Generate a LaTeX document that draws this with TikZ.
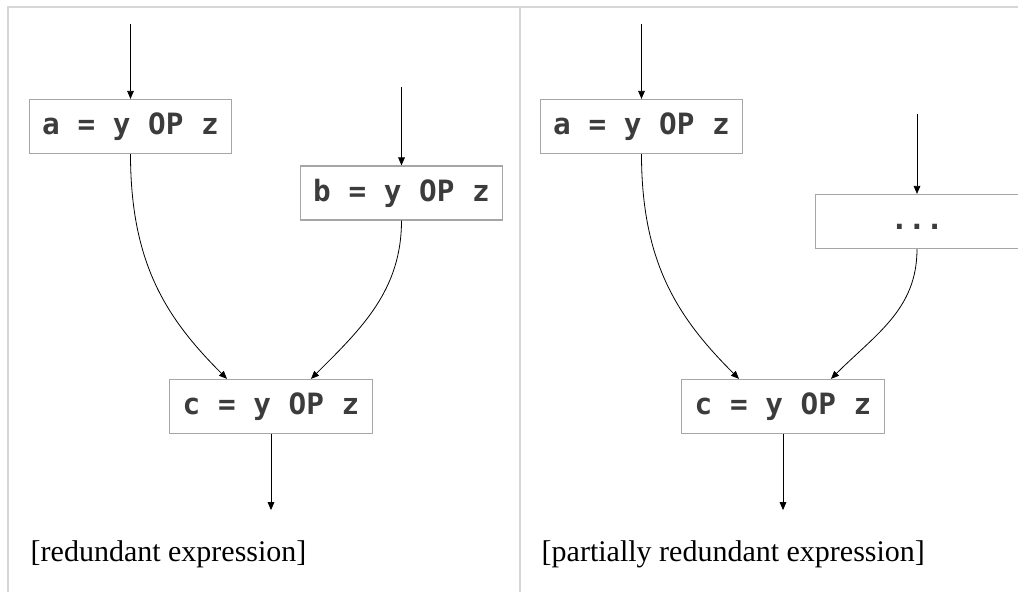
\documentclass[tikz,border=0pt]{standalone}
\usepackage{fontspec}
\setmainfont{Liberation Serif}
\newfontfamily\codefont{DejaVu Sans Mono}
\usepackage{xcolor}
\usetikzlibrary{positioning,calc,arrows.meta}
\definecolor{framegray}{HTML}{D6D6D6}
\definecolor{boxgray}{HTML}{A6A6A6}
\definecolor{codegray}{HTML}{3C3C3C}

\begin{document}
\begin{tikzpicture}[x=0.75pt,y=-0.75pt,
    stmt/.style={draw=boxgray, line width=0.9pt, minimum width=152pt, minimum height=40.5pt,
                 inner sep=0pt, font=\codefont\bfseries\fontsize{22}{26}\selectfont, text=codegray},
    flow/.style={-{Triangle[length=6pt,width=5pt]}, line width=0.6pt},
    caption/.style={anchor=base west, font=\fontsize{22.5}{27}\selectfont}]
    \useasboundingbox (0,0) rectangle (1018,592);

    % Frame
    \draw[framegray, line width=1.2pt] (8,592) -- (8,7) -- (1018,7);
    \draw[framegray, line width=1.2pt] (520,7) -- (520,592);

    % Left: redundant expression
    \node[stmt] (a1) at (130.5,126.5) {a = y OP z};
    \node[stmt] (b1) at (401.5,193) {b = y OP z};
    \node[stmt] (c1) at (271,406.5) {c = y OP z};
    \coordinate[above=56pt of a1.north] (ina1);
    \coordinate[above=58.5pt of b1.north] (inb1);
    \coordinate[below=57pt of c1.south] (outc1);
    \draw[flow] (ina1) -- (a1.north);
    \draw[flow] (inb1) -- (b1.north);
    \draw[flow] (a1.south) .. controls +(0,110) and +(-60,-60) .. ([xshift=-33pt]c1.north);
    \draw[flow] (b1.south) .. controls +(0,70) and +(50,-50) .. ([xshift=30pt]c1.north);
    \draw[flow] (c1.south) -- (outc1);
    \node[caption] (cap1) at (26,561) {[redundant expression]};

    % Right: partially redundant expression
    \node[stmt] (a2) at (641.5,126.5) {a = y OP z};
    \node[stmt] (d2) at (917,221.5) {\vphantom{Oy}...};
    \node[stmt] (c2) at (783,406.5) {c = y OP z};
    \coordinate[above=56pt of a2.north] (ina2);
    \coordinate[above=60pt of d2.north] (ind2);
    \coordinate[below=57pt of c2.south] (outc2);
    \draw[flow] (ina2) -- (a2.north);
    \draw[flow] (ind2) -- (d2.north);
    \draw[flow] (a2.south) .. controls +(0,110) and +(-60,-60) .. ([xshift=-33pt]c2.north);
    \draw[flow] (d2.south) .. controls +(0,60) and +(45,-45) .. ([xshift=36pt]c2.north);
    \draw[flow] (c2.south) -- (outc2);
    \node[caption] (cap2) at (537,561) {[partially redundant expression]};
\end{tikzpicture}
\end{document}
